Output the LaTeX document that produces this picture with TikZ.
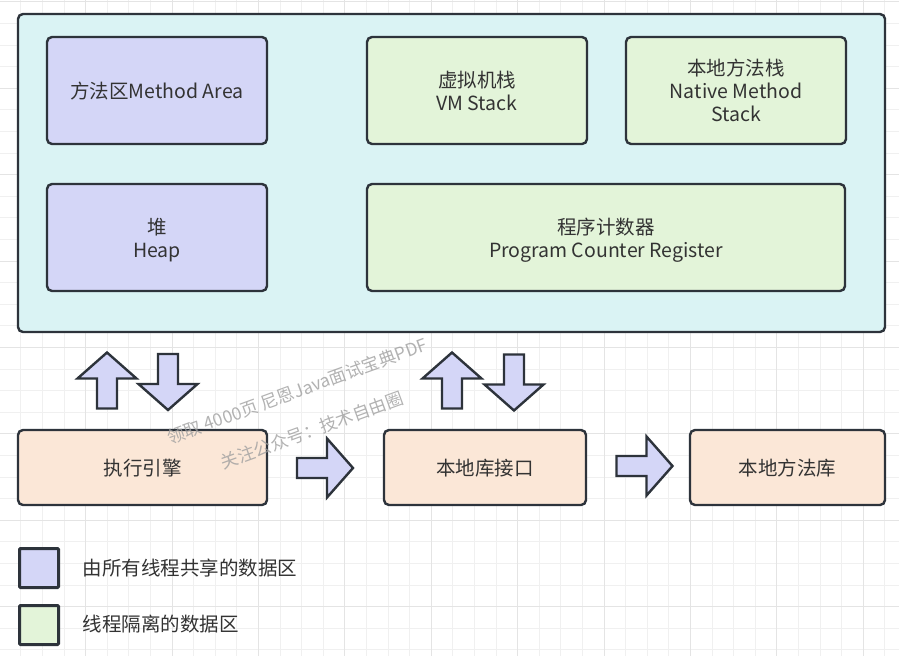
\documentclass[tikz,border=0pt]{standalone}
\usepackage{fontspec}
\setmainfont{Noto Sans CJK SC}
\usetikzlibrary{positioning}
\definecolor{edge}{HTML}{2D333B}
\definecolor{txt}{HTML}{333333}
\definecolor{jvmfill}{HTML}{DAF3F4}
\definecolor{sharedfill}{HTML}{D4D6F7}
\definecolor{privfill}{HTML}{E3F4D9}
\definecolor{natfill}{HTML}{FBE7D7}
\definecolor{gridminor}{HTML}{F0F0F0}
\definecolor{gridmajor}{HTML}{E4E4E4}
\tikzset{
  area/.style   ={rectangle, draw=edge, line width=2.4pt, rounded corners=5pt,
                  inner sep=2pt, outer sep=0pt, align=center, text=txt,
                  text depth=0pt, font=\fontsize{19.5}{23}\selectfont},
  shared/.style ={area, fill=sharedfill, minimum width=220pt, minimum height=107pt},
  private/.style={area, fill=privfill, minimum width=220pt, minimum height=107pt},
  lib/.style    ={area, fill=natfill, minimum height=75pt},
  keybox/.style ={rectangle, draw=edge, line width=3pt, rounded corners=1pt,
                  minimum width=39pt, minimum height=39pt, inner sep=0pt},
  keytext/.style={anchor=west, text=txt, font=\fontsize{19.5}{23}\selectfont},
  wmark/.style  ={text=gray!75, opacity=0.8, rotate=20,
                  font=\fontsize{17.5}{20}\selectfont},
  barrow/.pic   ={\draw[draw=edge, fill=sharedfill, line width=2.4pt]
                  (-28,-10) -- (2,-10) -- (2,-29.5) -- (28,0) -- (2,29.5)
                  -- (2,10) -- (-28,10) -- cycle;}
}

\begin{document}
\begin{tikzpicture}[x=1pt, y=-1pt, node distance=40pt and 100pt]
    \useasboundingbox[fill=white] (0,0) rectangle (899,656);
    % background grid
    \begin{scope}
      \clip (0,0) rectangle (899,656);
      \foreach \i in {0,...,42}
        \draw[gridminor, line width=0.8pt] ({-0.9+21.6*\i},0) -- ++(0,656);
      \foreach \i in {0,...,30}
        \draw[gridminor, line width=0.8pt] (0,{1.7+21.6*\i}) -- ++(899,0);
      \foreach \i in {0,...,10}
        \draw[gridmajor, line width=0.8pt] ({-0.9+86.4*\i},0) -- ++(0,656);
      \foreach \i in {0,...,7}
        \draw[gridmajor, line width=0.8pt] (0,{1.7+86.4*\i}) -- ++(899,0);
    \end{scope}

    % runtime data areas
    \node[area, fill=jvmfill, anchor=north west, minimum width=867pt,
          minimum height=318pt] (jvm) at (18,14) {};
    \node[shared, anchor=north west] (ma) at (47,37) {方法区Method Area};
    \node[shared, below=of ma] (heap) {堆\\Heap};
    \node[private, right=of ma] (vms) {虚拟机栈\\VM Stack};
    \node[private, right=39pt of vms] (nms) {本地方法栈\\Native Method\\Stack};
    \node[private, below right=40pt and 0pt of vms.south west,
          minimum width=478pt] (pc) {程序计数器\\Program Counter Register};

    % execution engine and native interface
    \node[lib, anchor=north west, minimum width=249pt] (engine) at (18,430) {执行引擎};
    \node[lib, anchor=north west, minimum width=202pt] (jni) at (384,430) {本地库接口};
    \node[lib, anchor=north west, minimum width=195pt] (natlib) at (690,430) {本地方法库};

    % block arrows
    \pic[rotate=90]  at (107,380.5) {barrow};
    \pic[rotate=-90] at (168,382)   {barrow};
    \pic[rotate=90]  at (452,380.5) {barrow};
    \pic[rotate=-90] at (514,382.5) {barrow};
    \pic at (325,468)   {barrow};
    \pic at (644.5,466) {barrow};

    % legend
    \node[keybox, fill=sharedfill, anchor=north west] (k1) at (18,547) {};
    \node[keybox, fill=privfill, anchor=north west] (k2) at (18,604) {};
    \node[keytext] (t1) at (79,568) {由所有线程共享的数据区};
    \node[keytext] (t2) at (79,624) {线程隔离的数据区};

    % watermark
    \node[wmark] (w1) at (297,391) {领取 4000页 尼恩Java面试宝典PDF};
    \node[wmark] (w2) at (312,430) {关注公众号：技术自由圈};
\end{tikzpicture}
\end{document}
